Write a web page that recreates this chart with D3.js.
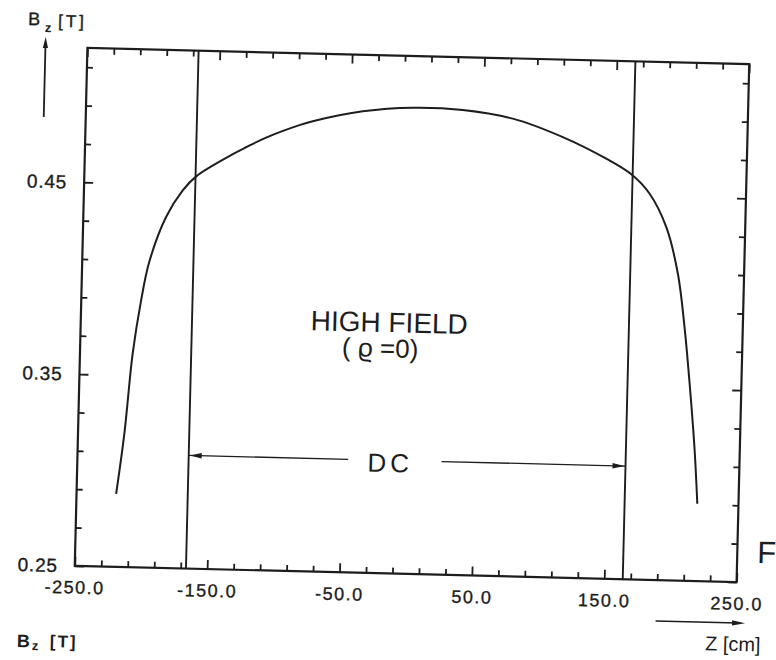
<!DOCTYPE html>
<html>
<head>
<meta charset="utf-8">
<script src="https://cdn.jsdelivr.net/npm/d3@7"></script>
<style>
  html, body { margin: 0; padding: 0; background: #fff; }
  svg { display: block; font-family: "Liberation Sans", Arial, "DejaVu Sans", sans-serif; }
</style>
</head>
<body>
<svg id="chart" width="776" height="660"></svg>
<script>
// Axial field B_z along the solenoid axis, high-field setting, rho = 0
const zCm = [-220.1, -215.0, -210.2, -204.8, -199.3, -187.5, -175.4, -165.5, -138.3, -128.4,
             -113.4, -88.5, -78.5, -40.9, -3.2, 34.6, 72.5, 110.6, 143.8, 163.0,
             177.2, 190.4, 200.0, 206.0, 210.9, 215.9, 218.9];
const bzTesla = [0.288, 0.3195, 0.3613, 0.3892, 0.4095, 0.4329, 0.447, 0.4545, 0.4665, 0.4703,
                 0.4756, 0.4825, 0.4847, 0.4905, 0.4930, 0.4925, 0.4886, 0.4796, 0.4689, 0.4611,
                 0.4512, 0.434, 0.4099, 0.3822, 0.3527, 0.3181, 0.2903];

// Ends of the drift chamber (cm) and the level of its span arrow (T)
const dcEnds = [-166, 164];
const dcArrowLevel = 0.309;
const dcGap = [-45.5, 25];

// Axis ranges and ticks
const zDomain = [-250, 250];
const bDomain = [0.25, 0.52];
const xMajorTicks = [-250, -150, -50, 50, 150, 250];
const xTickLabels = ["-250.0", "-150.0", "-50.0", "50.0", "150.0", "250.0"];
const xMinorTicks = [-230, -210, -190, -170, -130, -110, -90, -70, -30, -10,
                     10, 30, 70, 90, 110, 130, 170, 190, 210, 230];
const yMajorTicks = [0.25, 0.35, 0.45];
const yTickLabels = ["0.25", "0.35", "0.45"];
const yMinorTicks = [0.27, 0.29, 0.31, 0.33, 0.37, 0.39, 0.41, 0.43, 0.47, 0.49, 0.51];

const ink = "#1d1d1d";
const W = 776, H = 660;
const m = { left: 81, top: 56 };
const pw = 662, ph = 518;
const right = m.left + pw, bottom = m.top + ph;

const x = d3.scaleLinear().domain(zDomain).range([m.left, right]);
const y = d3.scaleLinear().domain(bDomain).range([bottom, m.top]);

const svg = d3.select("#chart");
svg.append("rect").attr("width", W).attr("height", H).attr("fill", "#fff");

// the whole sheet sits slightly turned
const g = svg.append("g")
  .attr("transform", `rotate(1.4 ${m.left + pw / 2} ${m.top + ph / 2})`);

function styleAxis(sel, size, spacing) {
  sel.select(".domain").remove();
  sel.selectAll(".tick line").attr("stroke", ink).attr("stroke-width", 1.8);
  sel.selectAll(".tick text")
    .attr("fill", ink)
    .attr("stroke", ink).attr("stroke-width", 0.35)
    .attr("font-size", size)
    .attr("letter-spacing", spacing)
    .attr("font-family", "'Liberation Sans', Arial, sans-serif");
}

const xLab = d => xTickLabels[xMajorTicks.indexOf(d)];
const yLab = d => yTickLabels[yMajorTicks.indexOf(d)];

// bottom axis
g.append("g").attr("transform", `translate(0,${bottom})`)
  .call(d3.axisBottom(x).tickValues(xMinorTicks).tickSize(-6).tickFormat(""))
  .call(s => styleAxis(s, 18, 1.5));
g.append("g").attr("transform", `translate(0,${bottom})`)
  .call(d3.axisBottom(x).tickValues(xMajorTicks).tickSize(-9).tickPadding(15).tickFormat(xLab))
  .call(s => styleAxis(s, 18, 1.5));

// top axis
g.append("g").attr("transform", `translate(0,${m.top})`)
  .call(d3.axisTop(x).tickValues(xMinorTicks).tickSize(-6).tickFormat(""))
  .call(s => styleAxis(s, 18, 1.5));
g.append("g").attr("transform", `translate(0,${m.top})`)
  .call(d3.axisTop(x).tickValues(xMajorTicks).tickSize(-9).tickFormat(""))
  .call(s => styleAxis(s, 18, 1.5));

// left axis
g.append("g").attr("transform", `translate(${m.left},0)`)
  .call(d3.axisLeft(y).tickValues(yMinorTicks).tickSize(-6).tickFormat(""))
  .call(s => styleAxis(s, 19, 0.8));
g.append("g").attr("transform", `translate(${m.left},0)`)
  .call(d3.axisLeft(y).tickValues(yMajorTicks).tickSize(-9).tickPadding(17).tickFormat(yLab))
  .call(s => styleAxis(s, 19, 0.8));

// right axis
g.append("g").attr("transform", `translate(${right},0)`)
  .call(d3.axisRight(y).tickValues(yMinorTicks).tickSize(-6).tickFormat(""))
  .call(s => styleAxis(s, 19, 0.8));
g.append("g").attr("transform", `translate(${right},0)`)
  .call(d3.axisRight(y).tickValues(yMajorTicks).tickSize(-9).tickFormat(""))
  .call(s => styleAxis(s, 19, 0.8));

// frame
g.append("rect")
  .attr("x", m.left).attr("y", m.top).attr("width", pw).attr("height", ph)
  .attr("fill", "none").attr("stroke", ink).attr("stroke-width", 2.2);

// drift chamber ends
g.selectAll("line.dc").data(dcEnds).join("line").attr("class", "dc")
  .attr("x1", d => x(d)).attr("x2", d => x(d))
  .attr("y1", y(bDomain[0])).attr("y2", y(bDomain[1]))
  .attr("stroke", ink).attr("stroke-width", 1.9);

// field profile
const pts = zCm.map((z, i) => [z, bzTesla[i]]);
g.append("path").datum(pts)
  .attr("fill", "none").attr("stroke", ink).attr("stroke-width", 2)
  .attr("stroke-linejoin", "round")
  .attr("d", d3.line().x(d => x(d[0])).y(d => y(d[1])).curve(d3.curveCatmullRom.alpha(0.5)));

// arrowheads
function arrowHead(px, py, dir, len, half) {
  // dir: unit vector the tip points along
  const [ux, uy] = dir;
  const bx = px - ux * len, by = py - uy * len;
  return `M${px},${py}L${bx - uy * half},${by + ux * half}L${bx + uy * half},${by - ux * half}Z`;
}

// DC span arrow
const yDC = y(dcArrowLevel);
g.append("line").attr("x1", x(dcEnds[0])).attr("x2", x(dcGap[0]))
  .attr("y1", yDC).attr("y2", yDC).attr("stroke", ink).attr("stroke-width", 1.3);
g.append("line").attr("x1", x(dcGap[1])).attr("x2", x(dcEnds[1]))
  .attr("y1", yDC).attr("y2", yDC).attr("stroke", ink).attr("stroke-width", 1.3);
g.append("path").attr("d", arrowHead(x(dcEnds[0]) + 1, yDC, [-1, 0], 12, 2.8)).attr("fill", ink);
g.append("path").attr("d", arrowHead(x(dcEnds[1]) - 1, yDC, [1, 0], 12, 2.8)).attr("fill", ink);
g.append("text").attr("x", x(-13.7)).attr("y", y(0.3029))
  .attr("text-anchor", "middle").attr("font-size", 26).attr("letter-spacing", 4)
  .attr("fill", ink).text("DC");

// plot annotation
g.append("text").attr("x", x(-17)).attr("y", y(0.3758))
  .attr("text-anchor", "middle").attr("font-size", 28).attr("fill", ink)
  .text("HIGH FIELD");
g.append("text").attr("x", x(-23.4)).attr("y", y(0.3627))
  .attr("text-anchor", "middle").attr("font-size", 26).attr("fill", ink)
  .text("( ϱ =0)");

// vertical axis caption with arrow
g.append("text").attr("x", m.left - 60).attr("y", m.top - 21.6).attr("font-size", 18).attr("fill", ink)
  .attr("stroke", ink).attr("stroke-width", 0.4).text("B");
g.append("text").attr("x", m.left - 43).attr("y", m.top - 15).attr("font-size", 13).attr("font-weight", "bold").attr("fill", ink).text("z");
g.append("text").attr("x", m.left - 30).attr("y", m.top - 20.4).attr("font-size", 17).attr("letter-spacing", 3).attr("fill", ink)
  .attr("stroke", ink).attr("stroke-width", 0.4).text("[T]");
g.append("line").attr("x1", m.left - 42).attr("x2", m.left - 42)
  .attr("y1", m.top + 70).attr("y2", m.top - 3).attr("stroke", ink).attr("stroke-width", 1.8);
g.append("path").attr("d", arrowHead(m.left - 42, m.top - 10, [0, -1], 11, 2.6)).attr("fill", ink);

// lower-left caption
g.append("text").attr("x", m.left - 56).attr("y", bottom + 82.6).attr("font-size", 18).attr("font-weight", "bold").attr("fill", ink).text("B");
g.append("text").attr("x", m.left - 41).attr("y", bottom + 85.3).attr("font-size", 13).attr("font-weight", "bold").attr("fill", ink).text("z");
g.append("text").attr("x", m.left - 23).attr("y", bottom + 81.8).attr("font-size", 17).attr("letter-spacing", 2).attr("font-weight", "bold").attr("fill", ink).text("[T]");

// horizontal axis caption with arrow
g.append("line").attr("x1", right - 80).attr("x2", right + 2)
  .attr("y1", bottom + 41).attr("y2", bottom + 41).attr("stroke", ink).attr("stroke-width", 1.4);
g.append("path").attr("d", arrowHead(right + 9.5, bottom + 41, [1, 0], 13, 2.6)).attr("fill", ink);
g.append("text").attr("x", right - 30).attr("y", bottom + 69).attr("font-size", 20).attr("fill", ink).text("Z [cm]");

// figure label at the sheet edge
g.append("text").attr("x", right + 20).attr("y", bottom - 19.4).attr("font-size", 31).attr("fill", ink).text("F");
</script>
</body>
</html>
